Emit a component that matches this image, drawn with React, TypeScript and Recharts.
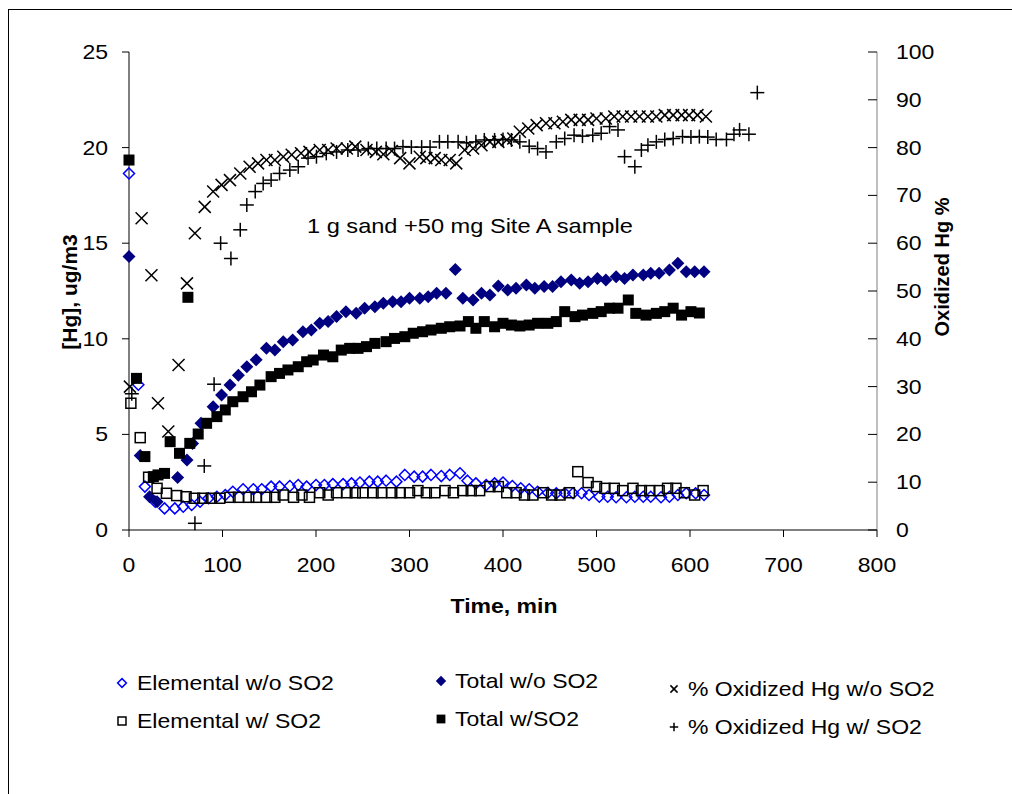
import React from 'react';
import { ScatterChart, Scatter, XAxis, YAxis } from 'recharts';

// time in min, [Hg] in ug/m3 (left axis) or oxidized Hg in % (right axis)
const timeTicks = [0, 100, 200, 300, 400, 500, 600, 700, 800];
const hgTicks = [0, 5, 10, 15, 20, 25];
const pctTicks = [0, 10, 20, 30, 40, 50, 60, 70, 80, 90, 100];

const elementalNoSo2: [number, number][] = [
  [0, 18.65], [10, 7.6], [17, 2.27], [28, 1.48], [38, 1.13], [49, 1.13], [58, 1.22], [67, 1.31],
  [76, 1.48], [85, 1.66], [94, 1.74], [103, 1.83], [111, 2.0], [122, 2.13], [133, 2.13], [142, 2.13],
  [152, 2.27], [161, 2.27], [172, 2.3], [181, 2.35], [190, 2.27], [200, 2.35], [209, 2.35], [218, 2.4],
  [229, 2.4], [238, 2.44], [247, 2.48], [257, 2.53], [266, 2.53], [275, 2.58], [286, 2.53], [295, 2.88],
  [305, 2.79], [314, 2.79], [323, 2.88], [334, 2.82], [343, 2.88], [354, 2.97], [362, 2.58], [371, 2.44],
  [382, 2.35], [391, 2.44], [400, 2.48], [410, 2.3], [419, 2.18], [428, 2.13], [437, 2.0], [448, 1.95],
  [457, 1.92], [466, 1.92], [475, 1.92], [484, 1.92], [492, 1.83], [503, 1.74], [512, 1.74], [521, 1.71],
  [532, 1.71], [541, 1.74], [550, 1.74], [558, 1.74], [569, 1.71], [578, 1.74], [587, 1.83], [596, 1.92],
  [606, 1.92], [615, 1.83],
];

const totalNoSo2: [number, number][] = [
  [0, 14.3], [12, 3.9], [22, 1.74], [30, 1.48], [52, 2.74], [62, 3.66], [68, 4.53], [77, 5.58],
  [90, 6.45], [99, 7.06], [108, 7.58], [117, 8.1], [126, 8.54], [136, 8.9], [147, 9.5], [156, 9.41],
  [165, 9.85], [175, 9.94], [186, 10.37], [195, 10.46], [204, 10.81], [213, 10.9], [222, 11.16], [232, 11.42],
  [243, 11.33], [252, 11.6], [263, 11.68], [272, 11.86], [282, 11.94], [291, 11.94], [300, 12.12], [311, 12.12],
  [320, 12.2], [329, 12.38], [339, 12.38], [349, 13.63], [357, 12.12], [368, 12.03], [377, 12.38], [386, 12.29],
  [395, 12.76], [405, 12.55], [414, 12.64], [425, 12.81], [434, 12.64], [444, 12.73], [453, 12.73], [462, 12.99],
  [473, 13.08], [482, 12.9], [491, 12.99], [501, 13.16], [510, 13.08], [521, 13.25], [530, 13.16], [539, 13.34],
  [550, 13.34], [558, 13.43], [567, 13.43], [578, 13.6], [587, 13.95], [596, 13.51], [605, 13.51], [615, 13.51],
];

const elementalSo2: [number, number][] = [
  [2, 6.63], [12, 4.83], [21, 2.76], [30, 2.18], [40, 1.92], [51, 1.8], [61, 1.74], [70, 1.66],
  [79, 1.66], [88, 1.66], [97, 1.66], [108, 1.71], [117, 1.71], [128, 1.71], [136, 1.71], [147, 1.71],
  [156, 1.71], [165, 1.83], [176, 1.71], [185, 1.83], [193, 1.71], [204, 1.95], [213, 1.83], [222, 1.95],
  [233, 1.95], [242, 1.95], [250, 1.95], [261, 1.95], [270, 1.95], [281, 1.95], [290, 1.95], [300, 1.95],
  [309, 2.06], [318, 1.95], [327, 1.95], [338, 2.06], [347, 1.95], [357, 2.06], [366, 2.06], [375, 2.06],
  [386, 2.27], [395, 2.27], [404, 1.95], [414, 1.95], [423, 1.83], [432, 1.83], [443, 1.95], [452, 1.83],
  [461, 1.83], [471, 1.95], [480, 3.05], [491, 2.48], [500, 2.27], [509, 2.18], [519, 2.18], [528, 2.06],
  [539, 2.18], [548, 2.06], [557, 2.06], [567, 2.06], [576, 2.18], [585, 2.18], [594, 1.95], [605, 1.83],
  [614, 2.06],
];

const totalSo2: [number, number][] = [
  [0, 19.35], [8, 7.93], [17, 3.84], [26, 2.79], [31, 2.88], [38, 2.96], [44, 4.62], [54, 4.01],
  [63, 12.17], [65, 4.53], [74, 5.02], [83, 5.58], [94, 5.93], [103, 6.28], [111, 6.71], [122, 6.97],
  [131, 7.23], [140, 7.58], [152, 8.02], [161, 8.19], [170, 8.37], [181, 8.54], [190, 8.8], [197, 8.89],
  [208, 9.15], [218, 9.06], [227, 9.41], [236, 9.5], [245, 9.5], [254, 9.59], [263, 9.76], [275, 9.85],
  [284, 10.02], [295, 10.11], [304, 10.29], [314, 10.37], [323, 10.46], [334, 10.55], [343, 10.63], [354, 10.67],
  [363, 10.9], [371, 10.55], [380, 10.9], [391, 10.63], [400, 10.81], [409, 10.72], [418, 10.67], [428, 10.72],
  [437, 10.81], [448, 10.81], [457, 10.9], [466, 11.42], [477, 11.16], [485, 11.24], [496, 11.33], [505, 11.42],
  [514, 11.6], [523, 11.6], [534, 12.03], [542, 11.33], [553, 11.24], [564, 11.33], [573, 11.42], [582, 11.6],
  [591, 11.24], [601, 11.42], [610, 11.35],
];

const oxidizedNoSo2: [number, number][] = [
  [1, 30], [13.5, 65.2], [24, 53.3], [31, 26.5], [42, 20.6], [53, 34.5], [62, 51.6], [70.5, 62.1],
  [81, 67.6], [90, 70.8], [99, 72.2], [108, 73.2], [119, 74.6], [129, 76], [138, 76.7], [147, 77.4],
  [156, 77.4], [165, 78.1], [174, 78.5], [184, 78.8], [193, 79.1], [204, 79.5], [213, 79.5], [222, 79.8],
  [233, 79.8], [242, 80.2], [254, 79.5], [264, 79.1], [272, 78.6], [281, 79.3], [290, 77.8], [300, 76.7],
  [311, 78.1], [318, 77.8], [327, 77.8], [334, 77.4], [343, 77.4], [350, 76.7], [359, 79.5], [368, 79.8],
  [377, 80.5], [386, 81.2], [395, 81.2], [404, 81.6], [411, 81.9], [418, 83.3], [427, 84], [436, 84.7],
  [446, 85.1], [455, 85.1], [464, 85.4], [473, 85.8], [482, 85.8], [491, 85.8], [500, 86.1], [510, 86.1],
  [519, 86.5], [528, 86.5], [537, 86.5], [546, 86.5], [555, 86.5], [564, 86.5], [573, 86.8], [582, 86.8],
  [591, 86.8], [599, 86.8], [608, 86.8], [617, 86.5],
];

const oxidizedSo2: [number, number][] = [
  [3, 28.5], [70.5, 1.4], [80.5, 13.4], [91, 30.5], [98, 60], [109, 56.8], [119, 62.8], [126, 68],
  [135, 70.8], [143.5, 72.5], [152, 73.2], [161, 74.6], [172, 75.3], [181, 76], [191.5, 77.8], [200.5, 78.1],
  [211, 78.8], [222, 79.1], [234, 79.5], [245, 79.5], [256, 79.8], [265, 79.8], [275, 79.8], [284, 79.8],
  [293, 80.2], [302, 80.1], [313, 80.1], [322, 80.1], [332, 81.2], [341, 81.2], [352, 81.2], [361, 81],
  [371, 81.2], [380, 81.6], [391, 81.6], [400, 81.7], [409, 81.6], [418, 81.2], [428, 80.3], [437, 79.8],
  [446, 79.1], [457, 81.2], [466, 81.9], [476, 82.6], [485, 82.4], [496, 82.6], [505, 83], [514, 84.4],
  [523, 83.7], [530, 78.1], [541, 76], [548, 79.5], [555, 80.5], [564, 81.2], [573, 81.7], [582, 81.9],
  [592, 82.3], [601, 82.2], [610, 82.3], [619, 82.2], [628, 81.7], [639, 81.7], [647, 82.8], [653, 83.7],
  [663, 82.8], [672, 91.5],
];

const FONT = '"Liberation Sans", Arial, sans-serif';
const STRETCH = 1.15;

type Kind = 'openDiamond' | 'diamond' | 'openSquare' | 'square' | 'cross' | 'plus';

function Marker({ kind, cx, cy, s = 1 }: { kind: Kind; cx: number; cy: number; s?: number }) {
  if (cx == null || cy == null) return null;
  switch (kind) {
    case 'openDiamond': {
      const r = 5.5 * s;
      return <polygon points={`${cx},${cy - r} ${cx + r},${cy} ${cx},${cy + r} ${cx - r},${cy}`} fill="none" stroke="#0000ff" strokeWidth={1.5} />;
    }
    case 'diamond': {
      const r = 6.5 * s;
      return <polygon points={`${cx},${cy - r} ${cx + r},${cy} ${cx},${cy + r} ${cx - r},${cy}`} fill="#000080" />;
    }
    case 'openSquare': {
      const r = 5 * s;
      return <rect x={cx - r} y={cy - r} width={2 * r} height={2 * r} fill="none" stroke="#000" strokeWidth={1.5} />;
    }
    case 'square': {
      const r = 5.5 * s;
      return <rect x={cx - r} y={cy - r} width={2 * r} height={2 * r} fill="#000" />;
    }
    case 'cross': {
      const r = 6 * s;
      return (
        <g stroke="#000" strokeWidth={1.5}>
          <line x1={cx - r} y1={cy - r} x2={cx + r} y2={cy + r} />
          <line x1={cx - r} y1={cy + r} x2={cx + r} y2={cy - r} />
        </g>
      );
    }
    default: {
      const r = 7 * s;
      return (
        <g stroke="#000" strokeWidth={1.5}>
          <line x1={cx - r} y1={cy} x2={cx + r} y2={cy} />
          <line x1={cx} y1={cy - r} x2={cx} y2={cy + r} />
        </g>
      );
    }
  }
}

const toPoints = (rows: [number, number][]) => rows.map(([t, v]) => ({ t, v }));

const series: { name: string; rows: [number, number][]; axis: string; kind: Kind }[] = [
  { name: 'Elemental w/o SO2', rows: elementalNoSo2, axis: 'left', kind: 'openDiamond' },
  { name: 'Total w/o SO2', rows: totalNoSo2, axis: 'left', kind: 'diamond' },
  { name: 'Elemental w/ SO2', rows: elementalSo2, axis: 'left', kind: 'openSquare' },
  { name: 'Total w/SO2', rows: totalSo2, axis: 'left', kind: 'square' },
  { name: '% Oxidized Hg w/o SO2', rows: oxidizedNoSo2, axis: 'right', kind: 'cross' },
  { name: '% Oxidized Hg w/ SO2', rows: oxidizedSo2, axis: 'right', kind: 'plus' },
];

// legend slots in series order: marker x, text x, row y
const legendSlots = [
  { mx: 122, tx: 137, y: 683, s: 0.8 },
  { mx: 441, tx: 455, y: 681, s: 0.8 },
  { mx: 122, tx: 137, y: 721, s: 0.8 },
  { mx: 441, tx: 455, y: 719, s: 0.8 },
  { mx: 674, tx: 688, y: 689, s: 0.6 },
  { mx: 674, tx: 688, y: 727, s: 0.6 },
];

function StretchText({ x, y, anchor = 'start', children, weight = 'normal', k = STRETCH }: any) {
  return (
    <g transform={`translate(${x},${y}) scale(${k},1)`}>
      <text x={0} y={0} textAnchor={anchor} fontSize={20} fontFamily={FONT} fontWeight={weight} fill="#000">
        {children}
      </text>
    </g>
  );
}

const LeftTick = ({ x, y, payload }: any) => (
  <StretchText x={x} y={y + 7} anchor="end">{payload.value}</StretchText>
);

const BottomTick = ({ x, y, payload }: any) => (
  <StretchText x={x} y={y + 35} anchor="middle">{payload.value}</StretchText>
);

const RightTick = ({ x, y, payload }: any) => (
  <g>
    <line x1={x - 9} y1={y} x2={x} y2={y} stroke="#000" strokeWidth={1} />
    <StretchText x={x + 19} y={y + 7} anchor="start">{payload.value}</StretchText>
  </g>
);

export default function App() {
  return (
    <div style={{ position: 'relative', width: 1012, height: 794, overflow: 'hidden', background: '#fff' }}>
      <style>{'body{margin:0;overflow:hidden;background:#fff}'}</style>
      <div style={{ position: 'absolute', left: 8, top: 9, width: 1100, height: 900, border: '1px solid #000' }} />
      <div style={{ position: 'absolute', left: 0, top: 0 }}>
        <ScatterChart width={1012} height={794} margin={{ top: 52, right: 75, bottom: 224, left: 69 }}>
          <XAxis
            type="number"
            dataKey="t"
            domain={[0, 800]}
            ticks={timeTicks}
            interval={0}
            height={40}
            stroke="#000"
            tickSize={7}
            tickMargin={0}
            tick={<BottomTick />}
          />
          <YAxis
            yAxisId="left"
            type="number"
            dataKey="v"
            domain={[0, 25]}
            ticks={hgTicks}
            interval={0}
            width={60}
            stroke="#000"
            tickSize={7}
            tickMargin={14}
            tick={<LeftTick />}
          />
          <YAxis
            yAxisId="right"
            orientation="right"
            type="number"
            dataKey="v"
            domain={[0, 100]}
            ticks={pctTicks}
            interval={0}
            width={60}
            stroke="#808080"
            tickLine={false}
            tickSize={0}
            tickMargin={0}
            tick={<RightTick />}
          />
          {series.map((s) => (
            <Scatter
              key={s.name}
              name={s.name}
              data={toPoints(s.rows)}
              yAxisId={s.axis}
              isAnimationActive={false}
              shape={(p: any) => <Marker kind={s.kind} cx={p.cx} cy={p.cy} />}
            />
          ))}
        </ScatterChart>
      </div>
      <svg width={1012} height={794} style={{ position: 'absolute', left: 0, top: 0, pointerEvents: 'none' }}>
        <StretchText x={307} y={233} k={1.18}>1 g sand +50 mg Site A sample</StretchText>
        <StretchText x={504} y={613} anchor="middle" weight="bold">Time, min</StretchText>
        <text
          transform="translate(77,292) rotate(-90)"
          textAnchor="middle"
          fontSize={21}
          fontWeight="bold"
          fontFamily={FONT}
        >
          [Hg], ug/m3
        </text>
        <text
          transform="translate(949,267) rotate(-90)"
          textAnchor="middle"
          fontSize={20}
          fontWeight="bold"
          fontFamily={FONT}
        >
          Oxidized Hg %
        </text>
        {series.map((s, i) => {
          const slot = legendSlots[i];
          return (
            <g key={s.name}>
              <Marker kind={s.kind} cx={slot.mx} cy={slot.y} s={slot.s} />
              <StretchText x={slot.tx} y={slot.y + 7}>{s.name}</StretchText>
            </g>
          );
        })}
      </svg>
    </div>
  );
}
